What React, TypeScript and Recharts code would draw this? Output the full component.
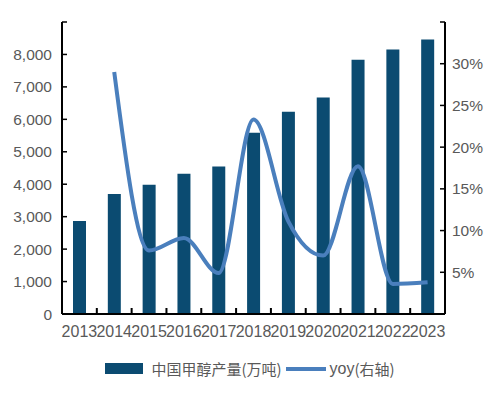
import React from 'react';
import { ComposedChart, Bar, Line, XAxis, YAxis, Legend } from 'recharts';

const years = ['2013', '2014', '2015', '2016', '2017', '2018', '2019', '2020', '2021', '2022', '2023'];
const output = [2870, 3700, 3980, 4320, 4550, 5590, 6230, 6670, 7840, 8150, 8460];
const yoy = [null, 29.0, 7.6, 9.1, 4.9, 23.3, 11.1, 7.0, 17.7, 3.6, 3.8];
const leftTicks = [0, 1000, 2000, 3000, 4000, 5000, 6000, 7000, 8000, 9000];
const rightTicks = [0, 5, 10, 15, 20, 25, 30, 35];

const data = years.map((year, i) => ({ year, output: output[i], yoy: yoy[i] }));

const BAR = '#0b4b71';
const LINE = '#4a7fbd';
const FONT = '"Liberation Sans", Arial, sans-serif';
const tickStyle = { fill: '#595959', fontSize: 15.5, fontFamily: FONT };
const X_GAP = 12;

// category label plus a small inward tick on the band boundary (Excel style)
function YearTick(props: any) {
  const { x, y, payload, index, visibleTicksCount, width } = props;
  const band = Number(width) / visibleTicksCount;
  const half = isFinite(band) && band > 0 ? band / 2 : 17.5;
  const axisY = y - X_GAP;
  return (
    <g>
      <rect x={x - half - 1} y={axisY - 6} width={2} height={6} fill="#000" />
      {index === visibleTicksCount - 1 && (
        <rect x={x + half - 1} y={axisY - 6} width={2} height={6} fill="#000" />
      )}
      <text x={x} y={y} dy="0.71em" textAnchor="middle" fill="#595959" fontSize={16} fontFamily={FONT}>
        {payload.value}
      </text>
    </g>
  );
}

function LegendBox() {
  return (
    <div style={{ display: 'flex', justifyContent: 'center', alignItems: 'center', paddingTop: 14, color: '#595959', fontSize: 15 }}>
      <span style={{ display: 'inline-block', width: 38, height: 11, background: BAR, marginRight: 8 }} />
      <span style={{ fontFamily: '"Noto Sans CJK SC", sans-serif' }}>中国甲醇产量(万吨)</span>
      <span style={{ display: 'inline-block', width: 40, height: 4, background: LINE, margin: '0 4px 0 4px' }} />
      <span style={{ fontFamily: FONT, fontSize: 16 }}>yoy</span>
      <span style={{ fontFamily: '"Noto Sans CJK SC", sans-serif' }}>(右轴)</span>
    </div>
  );
}

export default function App() {
  return (
    <div style={{ position: 'absolute', left: 0, top: 0, width: 504, height: 396, background: '#fff' }}>
      <ComposedChart width={504} height={396} data={data} margin={{ top: 22, right: 4, bottom: 14, left: 0 }}>
        <XAxis
          dataKey="year"
          interval={0}
          tickLine={false}
          tickSize={0}
          tickMargin={X_GAP}
          axisLine={{ stroke: '#000', strokeWidth: 2 }}
          tick={<YearTick />}
          height={30}
        />
        <YAxis
          yAxisId="left"
          domain={[0, 9000]}
          ticks={leftTicks}
          width={62}
          tickSize={-5}
          tickMargin={15}
          tickLine={{ stroke: '#000', strokeWidth: 1.5 }}
          axisLine={{ stroke: '#000', strokeWidth: 2 }}
          tick={tickStyle}
          tickFormatter={(v: number) => (v === 9000 ? '' : v.toLocaleString('en-US'))}
        />
        <YAxis
          yAxisId="right"
          orientation="right"
          domain={[0, 35]}
          ticks={rightTicks}
          width={55}
          tickSize={-5}
          tickMargin={12}
          tickLine={{ stroke: '#000', strokeWidth: 1.5 }}
          axisLine={{ stroke: '#000', strokeWidth: 2 }}
          tick={{ ...tickStyle, textAnchor: 'start' }}
          tickFormatter={(v: number) => (v === 0 || v === 35 ? '' : `${v}%`)}
        />
        <Bar yAxisId="left" dataKey="output" fill={BAR} barSize={13} isAnimationActive={false} />
        <Line
          yAxisId="right"
          dataKey="yoy"
          type="monotone"
          stroke={LINE}
          strokeWidth={4}
          dot={false}
          isAnimationActive={false}
        />
        <Legend verticalAlign="bottom" height={38} content={() => <LegendBox />} />
      </ComposedChart>
    </div>
  );
}
